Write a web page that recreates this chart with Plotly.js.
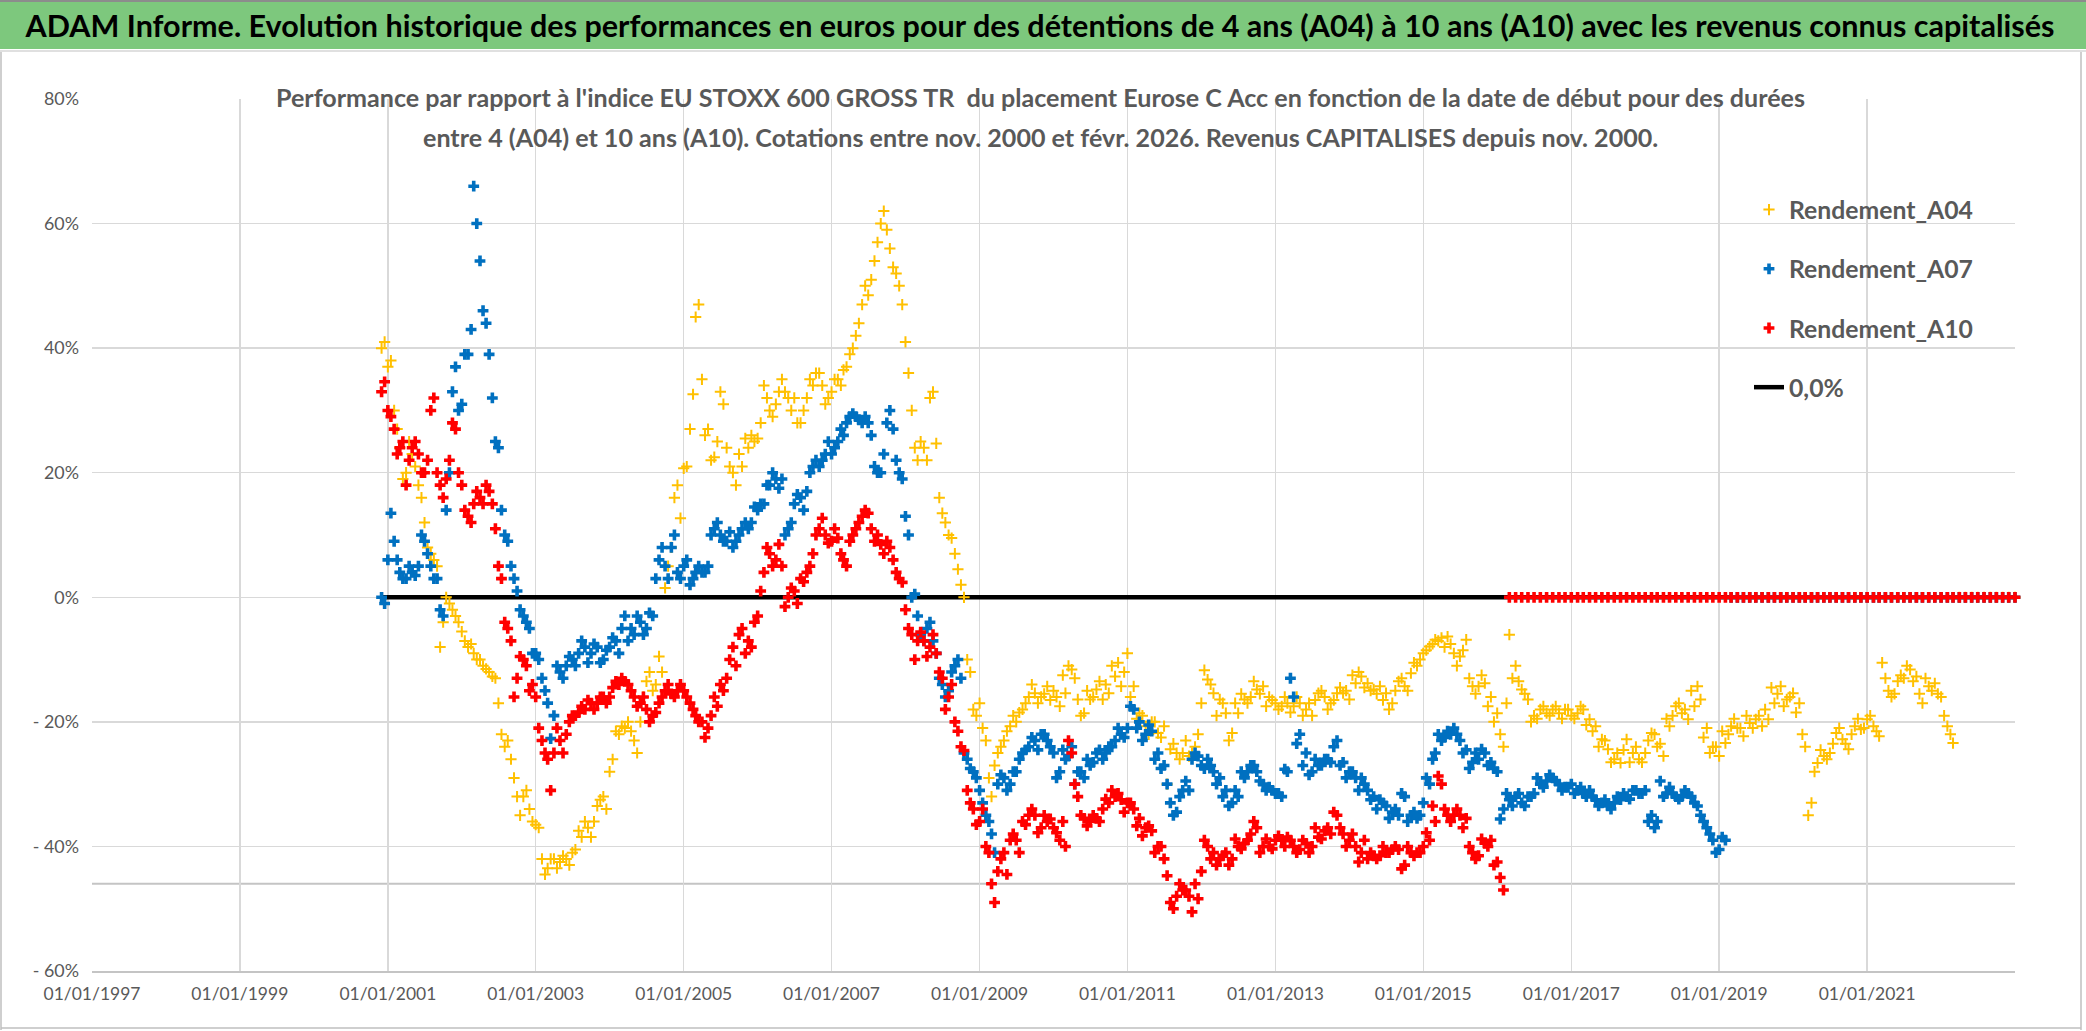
<!DOCTYPE html>
<html><head><meta charset="utf-8">
<script src="https://cdn.plot.ly/plotly-3.0.1.min.js"></script>
<style>html,body{margin:0;padding:0;background:#fff;overflow:hidden}#chart{width:2086px;height:1031px}</style>
</head><body><div id="chart"></div>
<script>
// ---------- DATA : values read at the 1st and the 16th of each month, from 2000-12 ----------
const START_YEAR = 2000, START_MONTH = 12;
const seriesNames = ['Rendement_A04', 'Rendement_A07', 'Rendement_A10', '0,0%'];

// values at the 1st of each month
const rendementA04 = [
 40,37,30,24,20,23,18,12,7,5,-4,-1,
 -3,-5.5,-8,-9,-10,-11.5,-12.7,-17,-24,-26,-32,-32,
 -34,-36.5,-42,-43.5,-42,-42.5,-42,-41,-37.5,-36,-38.5,-33.5,
 -32,-28,-21.5,-20.7,-20,-23,-20,-13.5,-15,-9.5,1.5,8,
 18,20.7,27,45,35,27,22.5,33,24,20,23,25.5,
 26,25.5,34,30,31,35,32,32,28,32,34,36,
 31,33,35,36.5,39,42,47,48.5,54,60,59,53,
 50,41,30,22,24,32,24.7,13.5,10,7,2,-10,
 -18,-17,-23,-32,-25,-23,-20.7,-20,-18,-16,-15.4,-16,
 -14.3,-15,-17.5,-15.4,-11.6,-16.4,-18.6,-16.4,-14.8,-16.4,-15.4,-12.7,
 -14.3,-9,-14.3,-18.6,-20.7,-20,-21.8,-20.7,-24.4,-25,-25,-25.5,
 -24,-17,-13.2,-15.4,-16.4,-18.6,-21.8,-18.6,-16.4,-16,-14.8,-14.3,
 -16,-17,-17.5,-17,-17.5,-17,-18,-19,-15.4,-16,-17,-15.4,
 -15.4,-16.4,-13.8,-12.7,-13.8,-14.8,-14.3,-15.4,-17,-13.5,-14.3,-12.2,
 -11,-9,-7.9,-6.8,-6.5,-6.3,-9,-9.5,-6.8,-14.3,-14.3,-13.8,
 -16,-18.6,-24,-6,-11,-14.8,-16.4,-19,-18,-18.6,-18,-18.6,
 -18,-19,-18.6,-18,-19.6,-20.7,-22.8,-24.4,-26,-26.6,-22.8,-25,
 -26,-25,-21.8,-24,-25.5,-20.7,-17.5,-18.6,-19.6,-17.5,-16.4,-21,
 -24,-25.5,-23.4,-20.7,-21,-22.3,-20.2,-19.6,-20.7,-19.6,-17,-14.3,
 -16.4,-15.4,-17,-24,-33,-26.6,-25.5,-25,-21.8,-22.8,-24.4,-20.7,
 -21.2,-19.6,-20.7,-22.3,-13,-16,-13.5,-13,-11.6,-12.7,-17,-14.3,
 -13.8,-16,-20.7,-23.4,
 0,0,0,0,0,0,0,0,0,0
];
// values at the 16th of each month
const rendementA04Mid = [
 41,38,27,19,25,21,16,8,6,-8,0,-2,
 -4,-7,-7.5,-10,-11,-12,-13,-22,-23,-29,-35,-31,
 -36,-37,-44.5,-42,-43.5,-41.5,-43,-40.5,-38.5,-37,-36,-32.5,
 -34,-26,-22,-21,-21.5,-25,-16,-12,-14,-12,5,16,
 12.7,21,32.6,47,26,22,25,31,21,18,21,24,
 25,28,32,29,33,33,30,28,30,35,36,34,
 32,35,34,37,40,44,50,51,57,62,56,52,
 47,36,24,25,22,33,16,12,9.5,4.5,0,-12,
 -19,-21,-29,-27,-24,-21.5,-19,-18.5,-17,-14,-17,-15.5,
 -16.5,-16,-12.5,-11,-13,-19,-15,-16,-13.5,-14,-11,-10.5,
 -12,-16,-19.5,-19,-22,-20,-22.5,-30,-23.5,-26,-23,-25,
 -22,-11.7,-14,-19,-17,-23,-17,-15.5,-17,-13.5,-15.5,-17.5,
 -16.5,-18,-16,-18.5,-16,-19,-17,-16.5,-15,-18,-16.5,-14.5,
 -15,-12.5,-12,-14.5,-15,-15.5,-16.5,-18,-15,-13,-15,-10.5,
 -10,-8.5,-7.5,-7,-8,-7.5,-11,-8.5,-13,-15.5,-12.5,-17.5,
 -20,-22,-17,-13,-13.5,-15.5,-20,-19.5,-17.5,-19,-17.5,-19.5,
 -18,-19.5,-17.5,-20.5,-21.5,-24,-23,-26.5,-25,-24.5,-26.5,-24,
 -26.5,-23,-22,-23.5,-19.5,-19,-17,-18,-15,-14.3,-22.5,-25,
 -24,-21.5,-22,-19.5,-21,-19,-21,-19,-18,-14.5,-15.5,-17.5,
 -16,-18.5,-22,-35,-28,-24.5,-26,-23.5,-21,-23.5,-22,-19.5,
 -21,-19,-21.5,-10.5,-15,-15.5,-12.5,-11,-13.5,-15.5,-13,-15,
 -15.5,-19,-22
];

const rendementA07 = [
 0,6,9,4,3,4,5,9,5,3,-3,20,
 37,31,39,66,54,44,32,24,10,5,1,-3,
 -5,-9,-13,-17,-19,-12,-11,-10,-9,-8,-9,-8,
 -10,-8,-7,-5,-7,-6,-4,-5,-3,6,5,8,
 4,5,2,4,4,5,11,10,9,8,10,12,
 12,14,15,18,19,19,11,15,16,17,21,21,
 23,23,25,26,29,29,28,28,21,20,28,27,
 20,13,0,-3,-7,-4,-9,-14,-15,-11,-13,-26,
 -28,-31,-35,-38,-30,-29,-30,-28,-25,-24,-23,-22,
 -23,-25,-28,-26,-24,-28,-29,-27,-25,-26,-24,-23,
 -22,-21,-18,-20,-22,-21.5,-25,-27,-33,-34.5,-31,-31,
 -25,-27,-26,-28,-29,-31,-33,-32,-29,-27,-28,-30,
 -30.5,-31.5,-32,-28,-16,-22,-25,-28,-27,-26,-26.5,-23,
 -26.5,-28,-29,-29,-31,-32,-32.5,-33.5,-34.5,-35,-32,-35,
 -35.5,-33,-30,-25,-23,-21.5,-21,-23,-24.5,-26.5,-26,-25,
 -26.5,-28,-34,-32.5,-32,-33,-32,-31.5,-30,-29.5,-29,-30,
 -30.5,-30,-31,-31.5,-31,-32.5,-33,-33.5,-33,-32.5,-32,-31,
 -31.5,-31,-35,-36,-32,-30.5,-32,-32,-31.5,-33,-35,-37,
 -39,-40.5,-39,
 0,0,0,0,0,0,0,0,0,0,0,0,0,0,0,0,0,0,0,0,0,0,0,0,
 0,0,0,0,0,0,0,0,0,0,0,0,0,0,0,0,0,0,0,0,0,0,0
];
const rendementA07Mid = [
 -1,13.5,6,3,5,3.5,10,7,3,-2,14,33,
 30,39,43,60,46,39,25,14,9,3,-2,-4,
 -9,-10,-15,-22.7,-11,-13,-9.5,-11,-7,-10.5,-7.5,-10.5,
 -8.5,-6.5,-9,-3,-5,-3,-6,-2.5,3,8,3,10,
 3,6,3,5,4,10,12,9,10.5,9,11,11,
 14.5,15,18,20,17.5,10,12,16.5,14,20,22,22,
 25,24,27,28,29.5,28.5,29,26,20,23,30,22,
 19,10,0.5,-6,-5,-7,-13,-16,-12,-10,-25,-27.5,
 -29,-33,-36,-41,-28.5,-31,-28,-26,-24.5,-22.5,-24.5,-22,
 -24,-29,-24.5,-25.5,-30,-28,-26,-26.5,-24.5,-25,-24,-21,
 -22.5,-17.5,-21,-23,-20.5,-26,-27.5,-30,-35,-32,-29.5,-26,
 -25.5,-27.5,-27,-30,-32,-33.5,-31,-28,-28,-27,-29.5,-31,
 -31,-31.5,-27.6,-13,-23.5,-27,-28.5,-26,-27,-26,-24,-27,
 -29,-28,-31,-30,-32.5,-34,-33,-35.5,-34,-31.5,-36,-34.5,
 -35,-29,-26,-22,-22.5,-22,-22,-25,-27.5,-25,-24.4,-27,
 -27.5,-35.6,-31.5,-33.5,-31.5,-33.5,-32,-29,-30.5,-28.5,-29.5,-31,
 -30.5,-31.5,-30.5,-32,-32,-33.5,-32.5,-34,-32,-31.5,-32.4,-31,
 -31.5,-36,-37,-29.5,-31.5,-31.5,-32.4,-31,-32,-33.5,-36,-38,
 -41,-38.5
];

const rendementA10 = [
 33,30,27,24,18,24,23,20,30,20,16,22,
 27,18,13,15,16,18,15,5,-4,-7,-13,-10,
 -15,-16,-23,-26,-25,-23,-22,-19,-18.5,-18,-17,-17,
 -16,-16,-13.5,-13,-14,-16,-17,-18,-19,-17,-15,-15.5,
 -15,-15,-17,-19,-20,-21,-16,-14,-13,-8,-6,-9,
 -8,-3,4,7,6,5,0,1,3,4,7,11,
 10,9,9.5,6,9,11,13,13.5,9,8.5,9,6,
 3,-2,-6,-7,-7,-8,-9,-13,-16,-20,-24,-31,
 -34,-36,-40,-46,-44,-41,-39,-39,-36,-35,-35,-37,
 -36,-37,-39,-40,-25,-32,-35.5,-36,-35.5,-34,-33,-32,
 -32.5,-33,-34,-35.5,-37,-37.5,-40,-42,-49,-48,-47,-48,
 -46,-44,-40,-41,-42,-41,-42,-40,-39.5,-38,-37,-40,
 -40,-39,-39,-38.5,-40,-40.5,-39.5,-40,-38.5,-37.5,-38,-35,
 -38,-39,-40,-41,-42,-41.5,-41.5,-41,-40.5,-40.5,-43,-41,
 -41,-40,-39,-36,-30,-35,-35,-35,-35.5,-41,-41.5,-39.5,
 -39,-42.5,-47,
 0,0,0,0,0,0,0,0,0,0,0,0,0,0,0,0,0,0,0,0,0,0,0,0,
 0,0,0,0,0,0,0,0,0,0,0,0,0,0,0,0,0,0,0,0,0,0,0,0,
 0,0,0,0,0,0,0,0,0,0,0,0,0,0,0,0,0,0,0,0,0,0,0,0,
 0,0,0,0,0,0,0,0,0,0,0
];
const rendementA10Mid = [
 34.6,29,23,25,22,25,20,22,32,18,19,28,
 20,14,12,17,15,17,11,3,-5,-16,-9.5,-11,
 -14,-21,-25,-31,-21,-25,-20,-19,-17.5,-16.5,-18,-16,
 -17,-14.5,-14,-13.5,-15,-17.5,-16,-20,-18.5,-16,-14,-16,
 -14,-16,-18,-20,-22.5,-19,-17.5,-15,-10,-11,-5,-7,
 -4,1,8,5,8.5,-1.5,1.5,-1,2.5,5,10,12.7,
 8.7,11,7,5,10,12,14,11,10,7,8,4,
 2.4,-5,-10,-5.6,-9.5,-6,-12,-18,-14,-21.5,-24.6,-33,
 -36.5,-34,-41,-49,-42,-44.5,-38,-41,-36.5,-34,-37.8,-35,
 -35.6,-37.8,-36,-23,-30,-35,-36.7,-35,-36,-32.4,-31,-31.5,
 -34.5,-33,-36.7,-38.3,-36.7,-41,-40,-44.7,-50,-46,-47,-50.5,
 -48.4,-39,-42,-43,-41.5,-43,-38.8,-40.4,-39,-36,-41,-38.8,
 -40.4,-38.3,-40,-39,-41,-39,-41,-37,-38.8,-37,-34.5,-37,
 -40,-38,-42.5,-39,-41,-42,-40,-41,-40,-43.6,-40,-41.5,
 -41,-37.8,-33.5,-28.7,-34,-36,-34,-37,-40,-42,-38.8,-40,
 -43,-45
];

const zeroLineDates = ['2000-12-08', '2023-01-01'];
const zeroLineValues = [0, 0];
const refLineValue = -46;

const xTickVals = ['1997-01-01','1999-01-01','2001-01-01','2003-01-01','2005-01-01','2007-01-01','2009-01-01','2011-01-01','2013-01-01','2015-01-01','2017-01-01','2019-01-01','2021-01-01'];
const xTickText = ['01/01/1997','01/01/1999','01/01/2001','01/01/2003','01/01/2005','01/01/2007','01/01/2009','01/01/2011','01/01/2013','01/01/2015','01/01/2017','01/01/2019','01/01/2021'];
const yTickVals = [80, 60, 40, 20, 0, -20, -40, -60];
const yTickText = ['80%', '60%', '40%', '20%', '0%', '- 20%', '- 40%', '- 60%'];

const titleText = 'ADAM Informe. Evolution historique des performances en euros pour des détentions de 4 ans (A04) à 10 ans (A10) avec les revenus connus capitalisés';
const subLine1 = "Performance par rapport à l'indice EU STOXX 600 GROSS TR\u00a0 du placement Eurose C Acc en fonction de la date de début pour des durées";
const subLine2 = "entre 4 (A04) et 10 ans (A10). Cotations entre nov. 2000 et févr. 2026. Revenus CAPITALISES depuis nov. 2000.";

// ---------- helpers ----------
function monthDates(n, day) {
  const out = [];
  for (let i = 0; i < n; i++) {
    const t = START_MONTH - 1 + i;
    const y = START_YEAR + Math.floor(t / 12);
    const m = (t % 12) + 1;
    out.push(y + '-' + String(m).padStart(2, '0') + '-' + String(day).padStart(2, '0'));
  }
  return out;
}
function seriesXY(first, mid) {
  return {x: monthDates(first.length, 1).concat(monthDates(mid.length, 16)), y: first.concat(mid)};
}
const FONT = 'Lato, "Open Sans", sans-serif';
const ctx = document.createElement('canvas').getContext('2d');
function fit(text, weight, target) {
  ctx.font = weight + ' 100px ' + FONT;
  return 100 * target / ctx.measureText(text).width;
}
const W = 2086, H = 1031, L = 92, R = 2015, T = 99, B = 971;
const px = x => (x - L) / (R - L);
const py = y => (B - y) / (B - T);

const titleSize = fit(titleText, 'bold', 2030);
const subSize = fit(subLine1, 'bold', 1532);
const legSize = fit('Rendement_A04', 'bold', 184);
const xtSize = fit('01/01/1997', 'normal', 97);
const ytSize = fit('80%', 'normal', 35);

const COLORS = {a04: '#FFC000', a07: '#0070C0', a10: '#FF0000'};
const s04 = seriesXY(rendementA04, rendementA04Mid);
const s07 = seriesXY(rendementA07, rendementA07Mid);
const s10 = seriesXY(rendementA10, rendementA10Mid);

const traces = [
  {x: zeroLineDates, y: zeroLineValues, name: seriesNames[3], type: 'scatter', mode: 'lines',
   line: {color: '#000000', width: 4.5}, legendrank: 4, legendgroup: 'g4', cliponaxis: false},
  {x: s04.x, y: s04.y, name: seriesNames[0], type: 'scatter', mode: 'markers',
   marker: {symbol: 'cross-thin', size: 8, color: COLORS.a04, line: {color: COLORS.a04, width: 2}},
   legendrank: 1, legendgroup: 'g1', cliponaxis: false},
  {x: s07.x, y: s07.y, name: seriesNames[1], type: 'scatter', mode: 'markers',
   marker: {symbol: 'cross', size: 9, color: COLORS.a07, line: {width: 0}},
   legendrank: 2, legendgroup: 'g2', cliponaxis: false},
  {x: s10.x, y: s10.y, name: seriesNames[2], type: 'scatter', mode: 'markers',
   marker: {symbol: 'cross', size: 9, color: COLORS.a10, line: {width: 0}},
   legendrank: 3, legendgroup: 'g3', cliponaxis: false}
];

const layout = {
  width: W, height: H,
  margin: {l: L, r: W - R, t: T, b: H - B, pad: 0},
  paper_bgcolor: '#ffffff', plot_bgcolor: 'rgba(0,0,0,0)',
  font: {family: FONT, color: '#595959'},
  showlegend: true,
  title: {text: titleText, x: 1040 / W, xref: 'container', xanchor: 'center', y: 1 - 26 / H, yref: 'container', yanchor: 'middle',
          font: {family: FONT, size: titleSize, color: '#000000', weight: 700}},
  xaxis: {type: 'date', range: ['1997-01-01', '2023-01-01'], tickmode: 'array', tickvals: xTickVals, ticktext: xTickText,
          showgrid: true, gridcolor: '#D9D9D9', gridwidth: 1.5, showline: true, linecolor: '#C4C4C4', linewidth: 2,
          ticks: '', zeroline: false, tickfont: {size: xtSize, color: '#595959', family: FONT}, ticklabelstandoff: 6, fixedrange: true},
  yaxis: {range: [-60, 80], tickmode: 'array', tickvals: yTickVals, ticktext: yTickText,
          showgrid: true, gridcolor: '#D9D9D9', gridwidth: 1.5, zeroline: false, showline: false, ticks: '',
          tickfont: {size: ytSize, color: '#595959', family: FONT}, ticklabelstandoff: 12, fixedrange: true},
  legend: {x: px(1749), y: py(187), xanchor: 'left', yanchor: 'top', bgcolor: 'rgba(0,0,0,0)', borderwidth: 0,
           traceorder: 'grouped', tracegroupgap: 24, font: {size: legSize, color: '#595959', family: FONT, weight: 700}},
  shapes: [
    {type: 'rect', xref: 'paper', yref: 'paper', x0: px(0), x1: px(W), y0: py(49), y1: py(0), fillcolor: '#7DC87D', line: {width: 0}, layer: 'below'},
    {type: 'line', xref: 'paper', yref: 'paper', x0: px(0), x1: px(W), y0: py(1), y1: py(1), line: {color: '#8C8C8C', width: 2}},
    {type: 'line', xref: 'paper', yref: 'paper', x0: px(0), x1: px(W), y0: py(51), y1: py(51), line: {color: '#E0E0E0', width: 2}},
    {type: 'line', xref: 'paper', yref: 'paper', x0: px(1), x1: px(1), y0: py(52), y1: py(1030), line: {color: '#BFBFBF', width: 1.5}},
    {type: 'line', xref: 'paper', yref: 'paper', x0: px(2081), x1: px(2081), y0: py(52), y1: py(1030), line: {color: '#BFBFBF', width: 1.5}},
    {type: 'line', xref: 'paper', yref: 'paper', x0: px(1), x1: px(2081), y0: py(1028), y1: py(1028), line: {color: '#BFBFBF', width: 1.5}},
    {type: 'rect', xref: 'paper', yref: 'paper', x0: px(268), x1: px(1812), y0: py(158), y1: py(74), fillcolor: '#ffffff', line: {width: 0}, layer: 'between'},
    {type: 'rect', xref: 'paper', yref: 'paper', x0: px(1702), x1: px(2015), y0: py(422), y1: py(180), fillcolor: '#ffffff', line: {width: 0}, layer: 'between'},
    {type: 'line', xref: 'paper', yref: 'y', x0: 0, x1: 1, y0: refLineValue, y1: refLineValue, line: {color: '#C4C4C4', width: 2}, layer: 'between'}
  ],
  annotations: [
    {text: subLine1, xref: 'paper', yref: 'paper', x: px(1040), y: py(97), xanchor: 'center', yanchor: 'middle', showarrow: false,
     font: {family: FONT, size: subSize, color: '#595959', weight: 700}},
    {text: subLine2, xref: 'paper', yref: 'paper', x: px(1040), y: py(137), xanchor: 'center', yanchor: 'middle', showarrow: false,
     font: {family: FONT, size: subSize, color: '#595959', weight: 700}}
  ]
};

Plotly.newPlot('chart', traces, layout, {displayModeBar: false, staticPlot: true});
</script>
</body></html>
